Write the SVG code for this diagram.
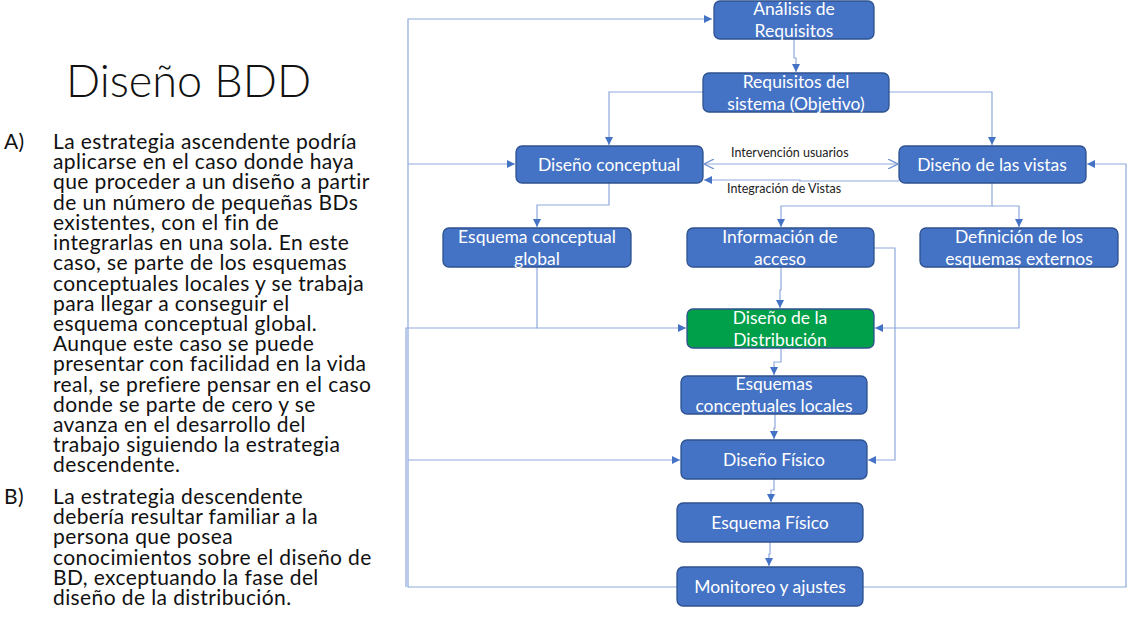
<svg xmlns="http://www.w3.org/2000/svg" width="1128" height="623" viewBox="0 0 1128 623">
<style>
.bg{fill:#ffffff}
.title{font-family:Lato,"Open Sans","Liberation Sans",sans-serif;font-weight:300;font-size:45px;fill:#111}
.body{font-family:Lato,"Open Sans","Liberation Sans",sans-serif;font-size:21px;letter-spacing:0.4px;fill:#111}
.box{fill:#4472C4;stroke:#2F528F;stroke-width:1.3}
.green{fill:#00A04A;stroke:#2F528F;stroke-width:1.3}
.lbl{font-family:Lato,"Open Sans","Liberation Sans",sans-serif;font-size:17.5px;fill:#ffffff;text-anchor:middle}
.edge{fill:none;stroke:#8EA9DB;stroke-width:1.2}
.elbl{font-family:Lato,"Open Sans","Liberation Sans",sans-serif;font-size:12.5px;fill:#222}
</style>
<defs>
<marker id="arr" viewBox="0 0 10 10" refX="10" refY="5" markerWidth="8" markerHeight="8" markerUnits="userSpaceOnUse" orient="auto">
<path d="M0,0 L10,5 L0,10 z" fill="#4472C4"/>
</marker>
<marker id="open" viewBox="0 0 10 10" refX="10" refY="5" markerWidth="10" markerHeight="10" markerUnits="userSpaceOnUse" orient="auto-start-reverse">
<path d="M0,0 L10,5 L0,10" fill="none" stroke="#6F8FCF" stroke-width="1.2"/>
</marker>
</defs>
<rect class="bg" x="0" y="0" width="1128" height="623"/>

<g id="text-panel">
<text class="title" x="66" y="97">Diseño BDD</text>
<g class="body">
<text x="4" y="149">A)</text>
<text x="53" y="149">La estrategia ascendente podría</text>
<text x="53" y="169">aplicarse en el caso donde haya</text>
<text x="53" y="189">que proceder a un diseño a partir</text>
<text x="53" y="210">de un número de pequeñas BDs</text>
<text x="53" y="230">existentes, con el fin de</text>
<text x="53" y="250">integrarlas en una sola. En este</text>
<text x="53" y="270">caso, se parte de los esquemas</text>
<text x="53" y="291">conceptuales locales y se trabaja</text>
<text x="53" y="311">para llegar a conseguir el</text>
<text x="53" y="331">esquema conceptual global.</text>
<text x="53" y="351">Aunque este caso se puede</text>
<text x="53" y="371">presentar con facilidad en la vida</text>
<text x="53" y="392">real, se prefiere pensar en el caso</text>
<text x="53" y="412">donde se parte de cero y se</text>
<text x="53" y="432">avanza en el desarrollo del</text>
<text x="53" y="452">trabajo siguiendo la estrategia</text>
<text x="53" y="472">descendente.</text>
<text x="4" y="504">B)</text>
<text x="53" y="504">La estrategia descendente</text>
<text x="53" y="524">debería resultar familiar a la</text>
<text x="53" y="544">persona que posea</text>
<text x="53" y="565">conocimientos sobre el diseño de</text>
<text x="53" y="585">BD, exceptuando la fase del</text>
<text x="53" y="605">diseño de la distribución.</text>
</g>
</g>

<g id="connectors">
<path class="edge" d="M794,39 V58 H796 V72" marker-end="url(#arr)"/>
<path class="edge" d="M703,92 H609 V145" marker-end="url(#arr)"/>
<path class="edge" d="M889,92 H992 V145" marker-end="url(#arr)"/>
<path class="edge" d="M704,164 H898" marker-start="url(#open)" marker-end="url(#open)"/>
<path class="edge" d="M899,181 H800 V180 H704" marker-end="url(#arr)"/>
<path class="edge" d="M609,183 V205 H537 V227" marker-end="url(#arr)"/>
<path class="edge" d="M992,183 V206 H781 V227" marker-end="url(#arr)"/>
<path class="edge" d="M992,206 H1019 V227" marker-end="url(#arr)"/>
<path class="edge" d="M537,267 V328 H686" marker-end="url(#arr)"/>
<path class="edge" d="M781,267 V290 H780 V308" marker-end="url(#arr)"/>
<path class="edge" d="M1019,267 V328 H875" marker-end="url(#arr)"/>
<path class="edge" d="M874,248 H895 V460 H868" marker-end="url(#arr)"/>
<path class="edge" d="M781,348 V362 H774 V375" marker-end="url(#arr)"/>
<path class="edge" d="M775,414 V428 H774 V439" marker-end="url(#arr)"/>
<path class="edge" d="M774,479 V490 H771 V502" marker-end="url(#arr)"/>
<path class="edge" d="M770,542 V554 H769 V566" marker-end="url(#arr)"/>
<path class="edge" d="M677,587 H408 V19 H712" marker-end="url(#arr)"/>
<path class="edge" d="M408,164 H515" marker-end="url(#arr)"/>
<path class="edge" d="M406,587 V328 H537"/>
<path class="edge" d="M408,460 H680" marker-end="url(#arr)"/>
<path class="edge" d="M863,587 H1126 V164 H1087" marker-end="url(#arr)"/>
<text class="elbl" x="731" y="157">Intervención usuarios</text>
<text class="elbl" x="727" y="193">Integración de Vistas</text>
</g>

<g id="n-analisis"><rect class="box" x="714" y="1" width="160" height="38" rx="6"/><text class="lbl" x="794" y="15">Análisis de</text><text class="lbl" x="794" y="37">Requisitos</text></g>
<g id="n-requisitos"><rect class="box" x="703" y="73" width="186" height="39" rx="6"/><text class="lbl" x="796" y="88">Requisitos del</text><text class="lbl" x="796" y="110">sistema (Objetivo)</text></g>
<g id="n-conceptual"><rect class="box" x="516" y="146" width="187" height="37" rx="6"/><text class="lbl" x="609" y="171">Diseño conceptual</text></g>
<g id="n-vistas"><rect class="box" x="899" y="146" width="187" height="37" rx="6"/><text class="lbl" x="992" y="171">Diseño de las vistas</text></g>
<g id="n-global"><rect class="box" x="443" y="228" width="188" height="39" rx="6"/><text class="lbl" x="537" y="243">Esquema conceptual</text><text class="lbl" x="537" y="265">global</text></g>
<g id="n-acceso"><rect class="box" x="687" y="228" width="187" height="39" rx="6"/><text class="lbl" x="780" y="243">Información de</text><text class="lbl" x="780" y="265">acceso</text></g>
<g id="n-externos"><rect class="box" x="920" y="228" width="198" height="39" rx="6"/><text class="lbl" x="1019" y="243">Definición de los</text><text class="lbl" x="1019" y="265">esquemas externos</text></g>
<g id="n-distribucion"><rect class="green" x="687" y="309" width="187" height="39" rx="6"/><text class="lbl" x="780" y="324">Diseño de la</text><text class="lbl" x="780" y="346">Distribución</text></g>
<g id="n-locales"><rect class="box" x="681" y="376" width="186" height="38" rx="6"/><text class="lbl" x="774" y="390">Esquemas</text><text class="lbl" x="774" y="412">conceptuales locales</text></g>
<g id="n-disfisico"><rect class="box" x="681" y="440" width="186" height="39" rx="6"/><text class="lbl" x="774" y="466">Diseño Físico</text></g>
<g id="n-esqfisico"><rect class="box" x="677" y="503" width="186" height="39" rx="6"/><text class="lbl" x="770" y="529">Esquema Físico</text></g>
<g id="n-monitoreo"><rect class="box" x="677" y="567" width="186" height="39" rx="6"/><text class="lbl" x="770" y="593">Monitoreo y ajustes</text></g>
</svg>
